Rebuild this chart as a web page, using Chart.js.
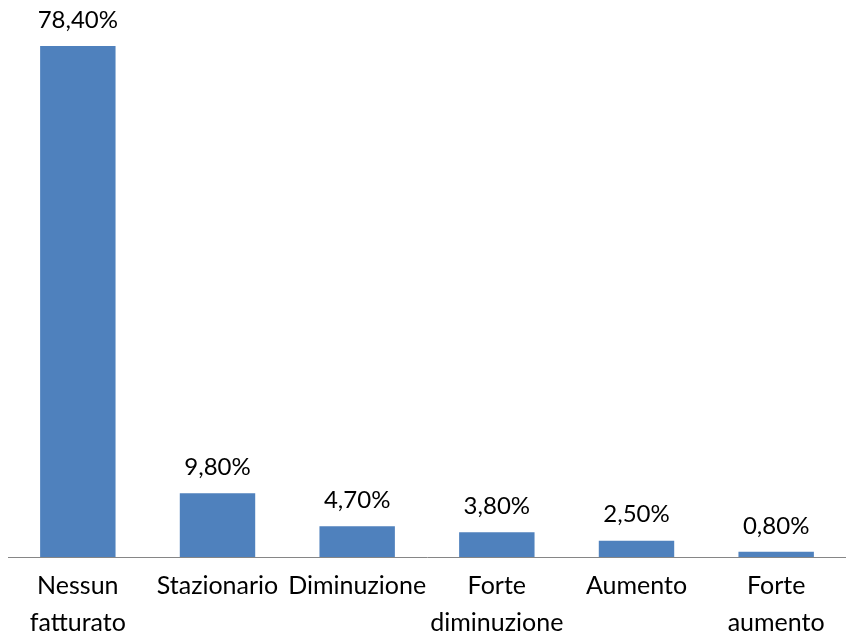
<!DOCTYPE html>
<html>
<head>
<meta charset="utf-8">
<script src="https://cdn.jsdelivr.net/npm/chart.js@4.4.0/dist/chart.umd.min.js"></script>
<style>
  html, body { margin: 0; padding: 0; background: #fff; }
  #wrap { width: 846px; height: 636px; }
</style>
</head>
<body>
<div id="wrap"><canvas id="chart"></canvas></div>
<script>
// categories and values
const categories = [
  ['Nessun', 'fatturato'],
  'Stazionario',
  'Diminuzione',
  ['Forte', 'diminuzione'],
  'Aumento',
  ['Forte', 'aumento']
];
const values = [78.4, 9.8, 4.7, 3.8, 2.5, 0.8];

// value labels above bars
const valueLabels = {
  id: 'valueLabels',
  afterDatasetsDraw(chart) {
    const ctx = chart.ctx;
    const meta = chart.getDatasetMeta(0);
    ctx.save();
    ctx.font = '24px Lato, sans-serif';
    ctx.fillStyle = '#000';
    ctx.textAlign = 'center';
    ctx.textBaseline = 'middle';
    meta.data.forEach(function (bar, i) {
      const txt = values[i].toFixed(2).replace('.', ',') + '%';
      ctx.fillText(txt, bar.x, bar.y - 26);
    });
    ctx.restore();
  }
};

new Chart(document.getElementById('chart'), {
  type: 'bar',
  data: {
    labels: categories,
    datasets: [{
      data: values,
      backgroundColor: '#4F81BD',
      categoryPercentage: 1,
      barPercentage: 0.54
    }]
  },
  options: {
    responsive: true,
    maintainAspectRatio: false,
    animation: false,
    layout: { padding: { left: 8, right: 0, top: 46, bottom: 0 } },
    plugins: {
      legend: { display: false },
      tooltip: { enabled: false }
    },
    scales: {
      y: {
        display: false,
        min: 0,
        max: 78.4
      },
      x: {
        grid: { display: false, drawTicks: false },
        border: { display: true, color: '#868686', width: 1 },
        afterFit: function (scale) { scale.height = 79; },
        ticks: {
          color: '#000',
          padding: 10,
          maxRotation: 0,
          autoSkip: false,
          font: { family: 'Lato, sans-serif', size: 25, lineHeight: 1.5 }
        }
      }
    }
  },
  plugins: [valueLabels]
});
</script>
</body>
</html>
